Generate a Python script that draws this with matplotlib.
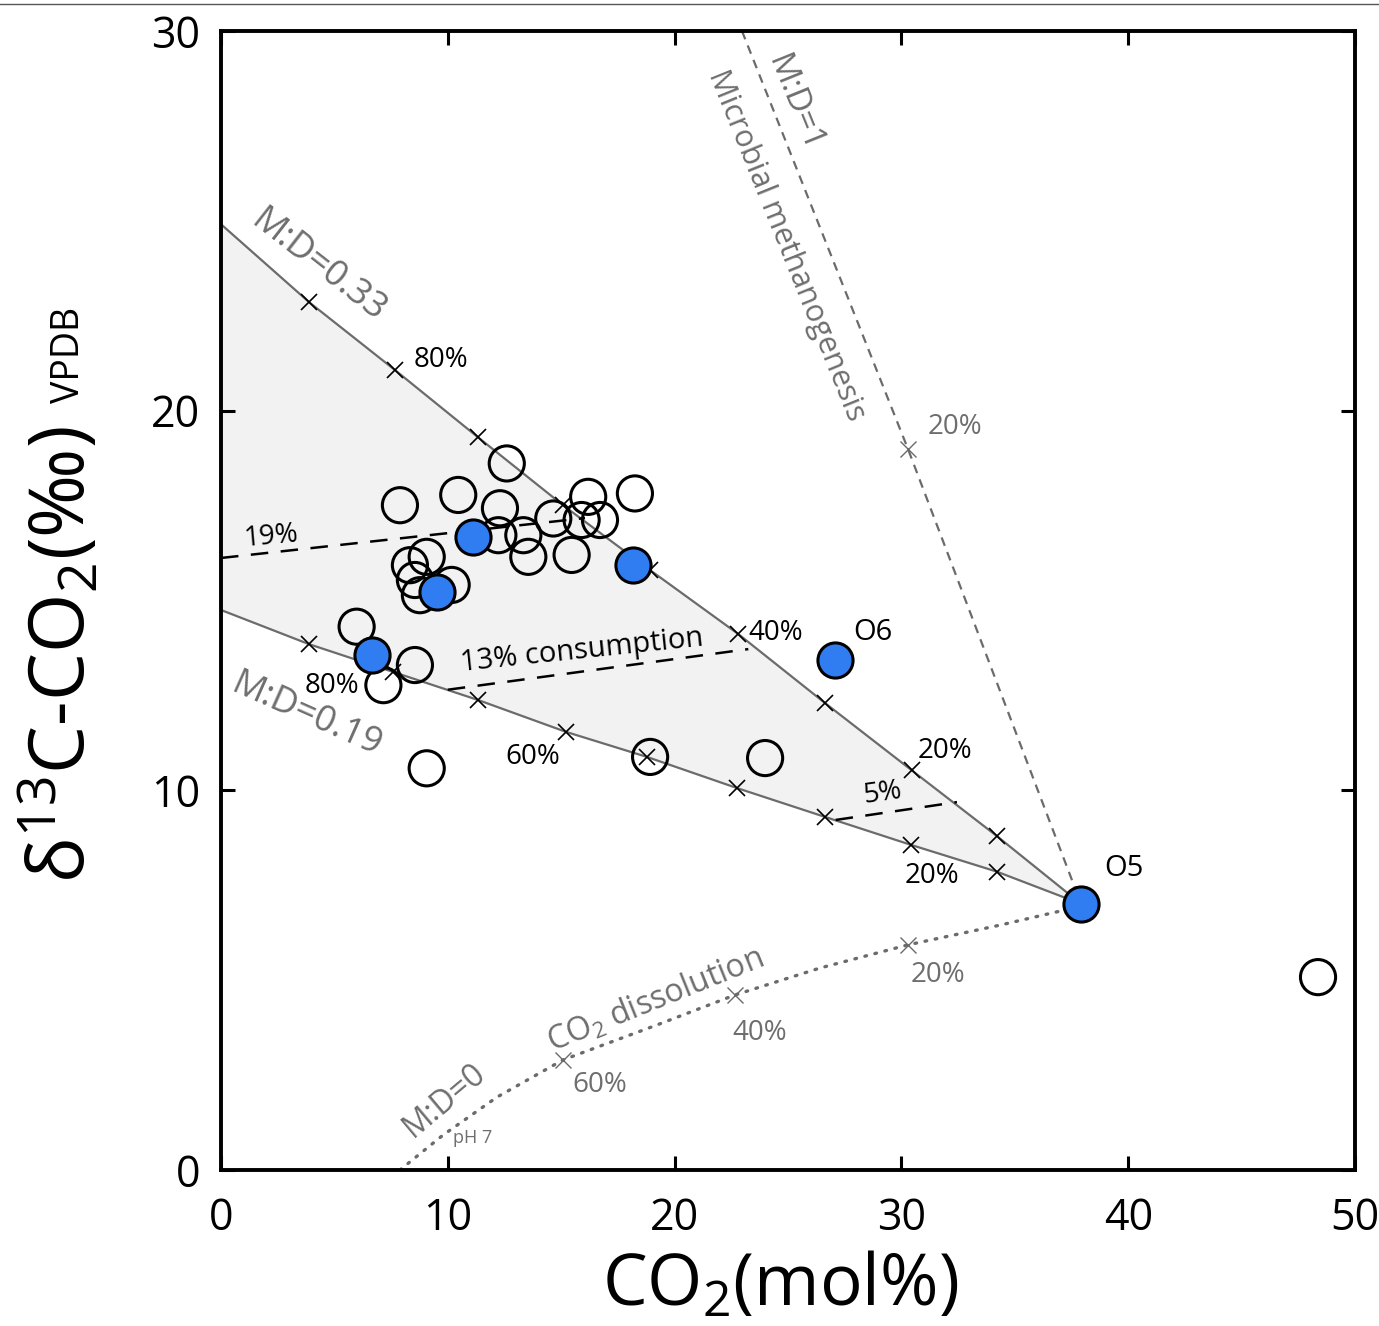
import matplotlib
matplotlib.use("Agg")
import matplotlib.pyplot as plt
from matplotlib.lines import Line2D
import numpy as np

plt.rcParams["font.family"] = ["Open Sans", "DejaVu Sans"]
plt.rcParams["mathtext.default"] = "regular"

# --- data ------------------------------------------------------------------
# mixing line M:D=0.33 (upper edge of the grey field), crosses every 10 %
upper_x = [0.0, 3.88, 7.67, 11.33, 15.08, 18.92, 22.80, 26.63, 30.45, 34.20, 37.92]
upper_y = [24.91, 22.86, 21.07, 19.30, 17.51, 15.80, 14.12, 12.30, 10.53, 8.80, 7.01]

# mixing line M:D=0.19 (lower edge)
lower_x = [0.0, 3.88, 7.58, 11.33, 15.21, 18.78, 22.75, 26.63, 30.44, 34.20, 37.92]
lower_y = [14.75, 13.85, 13.12, 12.38, 11.54, 10.88, 10.06, 9.30, 8.56, 7.86, 7.01]

# microbial methanogenesis, M:D=1
micro_x = [22.97, 30.29, 37.92]
micro_y = [30.0, 18.99, 7.01]

# CO2 dissolution, M:D=0
diss_x = [7.89, 9.79, 12.17, 15.08, 19.22, 22.66, 26.41, 30.29, 34.35, 37.79]
diss_y = [0.0, 0.92, 1.92, 2.90, 3.82, 4.61, 5.32, 5.93, 6.45, 6.93]
diss_marks_x = [15.08, 22.66, 30.29]
diss_marks_y = [2.90, 4.61, 5.93]

# consumption isolines
cons19_x = [0.0, 16.05]
cons19_y = [16.12, 17.17]
cons13_x = [10.0, 23.25]
cons13_y = [12.65, 13.72]
cons5_x = [27.1, 32.45]
cons5_y = [9.22, 9.69]

# samples
open_x = [12.60, 7.89, 10.46, 12.30, 12.23, 13.33, 13.55, 14.65, 15.46, 16.19,
          15.90, 16.71, 18.25, 8.33, 9.07, 8.55, 8.77, 10.17, 5.98, 8.55,
          7.16, 9.07, 18.92, 23.99, 48.37]
open_y = [18.61, 17.51, 17.78, 17.43, 16.72, 16.72, 16.15, 17.16, 16.20, 17.73,
          17.12, 17.12, 17.82, 15.93, 16.15, 15.54, 15.14, 15.41, 14.31, 13.30,
          12.77, 10.58, 10.88, 10.85, 5.08]
blue_x = [11.12, 18.18, 9.51, 6.64, 27.07, 37.92]
blue_y = [16.68, 15.93, 15.23, 13.56, 13.43, 7.01]

# --- figure ----------------------------------------------------------------
W, H = 1379, 1326
fig = plt.figure(figsize=(W / 100, H / 100), dpi=100)
ax = fig.add_axes([221 / W, 1 - 1170 / H, 1134 / W, 1139 / H])

grey = "#6b6b6b"
txt_grey = "#6e6e6e"

ax.fill(upper_x + lower_x[::-1], upper_y + lower_y[::-1], color="#f2f2f2", lw=0, zorder=1)
ax.plot(upper_x, upper_y, color=grey, lw=1.6, zorder=2)
ax.plot(lower_x, lower_y, color=grey, lw=1.6, zorder=2)
ax.plot(upper_x[1:-1], upper_y[1:-1], ls="none", marker="x", ms=11, mew=1.2, color="black", zorder=3)
ax.plot(lower_x[1:-1], lower_y[1:-1], ls="none", marker="x", ms=11, mew=1.2, color="black", zorder=3)

ax.plot(micro_x, micro_y, color=grey, lw=1.6, ls=(0, (4, 3)), zorder=2)
ax.plot(micro_x[1], micro_y[1], ls="none", marker="x", ms=11, mew=1.0, color=grey, zorder=3)

ax.plot(diss_x, diss_y, color=grey, lw=2.4, ls=(0, (0.5, 2.6)), dash_capstyle="round", zorder=2)
ax.plot(diss_marks_x, diss_marks_y, ls="none", marker="x", ms=11, mew=1.0, color=grey, zorder=3)

for cx, cy in [(cons19_x, cons19_y), (cons13_x, cons13_y), (cons5_x, cons5_y)]:
    ax.plot(cx, cy, color="black", lw=1.8, ls=(0, (7, 5)), zorder=3)

ax.scatter(open_x, open_y, s=640, facecolors="none", edgecolors="black", linewidths=2.2, zorder=4)
ax.scatter(blue_x, blue_y, s=640, facecolors="#2f7df0", edgecolors="black", linewidths=2.2, zorder=5)

# --- annotations -----------------------------------------------------------
def px(xp, yp):
    return (xp - 221) / 22.68, (1170 - yp) / 37.97

def note(xp, yp, s, size=20, color="black", rot=0):
    x, y = px(xp, yp)
    ax.text(x, y, s, fontsize=size, color=color, rotation=rot,
            ha="center", va="center", rotation_mode="anchor", zorder=6)

note(441, 360, "80%")
note(776, 633, "40%")
note(945, 751, "20%")
note(332, 686, "80%")
note(533, 757, "60%")
note(932, 876, "20%")
note(271, 537, "19%", rot=5)
note(582, 651, "13% consumption", size=21, rot=6)
note(882, 793, "5%", rot=8)
note(873, 632, "O6", size=21)
note(1124, 868, "O5", size=21)

note(318, 266, "M:D=0.33", size=26, color=txt_grey, rot=-38)
note(307, 715, "M:D=0.19", size=26, color=txt_grey, rot=-24)
note(795, 104, "M:D=1", size=24, color=txt_grey, rot=-68)
note(786, 245, "Microbial methanogenesis", size=22, color=txt_grey, rot=-68)
note(955, 427, "20%", color=txt_grey)
note(445, 1100, "M:D=0", size=23, color=txt_grey, rot=40)
note(656, 1000, "CO$_2$ dissolution", size=23, color=txt_grey, rot=22)
note(473, 1138, "pH 7", size=13, color=txt_grey)
note(600, 1085, "60%", color=txt_grey)
note(760, 1033, "40%", color=txt_grey)
note(938, 975, "20%", color=txt_grey)

# --- axes styling ----------------------------------------------------------
ax.set_xlim(0, 50)
ax.set_ylim(0, 30)
ax.set_xticks([0, 10, 20, 30, 40, 50])
ax.set_yticks([0, 10, 20, 30])
ax.tick_params(direction="in", length=10, width=2.2, labelsize=31,
               top=True, right=True)
ax.tick_params(axis="x", pad=19)
ax.tick_params(axis="y", pad=15)
for sp in ax.spines.values():
    sp.set_linewidth(2.8)

fig.text(780 / W, 1 - 1287 / H, "CO$_2$(mol%)", fontsize=51, ha="center", va="center")
fig.text(62 / W, 1 - 655 / H, "δ$^{13}$C-CO$_2$(‰)", fontsize=55, rotation=90,
         ha="center", va="center")
fig.text(69 / W, 1 - 355 / H, "VPDB", fontsize=27, rotation=90, ha="center", va="center")

fig.add_artist(Line2D([0, 1], [1 - 4 / H, 1 - 4 / H], color="#555555", lw=1))

fig.savefig("out.png", dpi=100)
